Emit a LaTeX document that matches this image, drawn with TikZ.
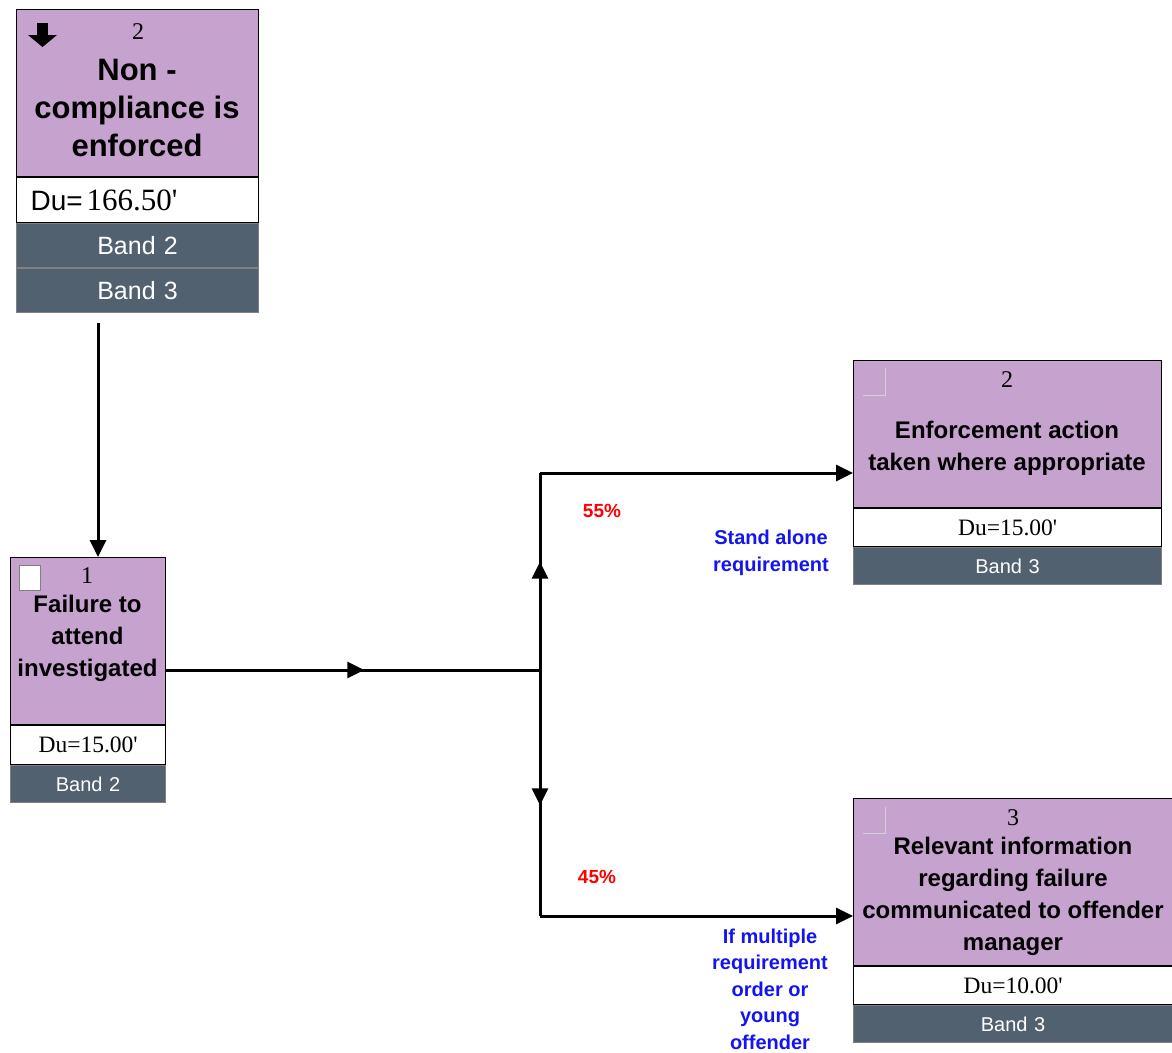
\documentclass[tikz,border=0pt]{standalone}
\usepackage{fontspec}
\setmainfont{Liberation Serif}
\setsansfont{Liberation Sans}
\usepackage{tikz}
\usetikzlibrary{positioning, arrows.meta, decorations.markings}
\usepackage{xcolor}
\definecolor{actpurple}{HTML}{C6A2CE}
\definecolor{bandgray}{HTML}{52616F}
\definecolor{condblue}{HTML}{1414F0}

\newcommand{\fsz}[2]{\fontsize{#1}{#2}\selectfont}
\newcommand{\mins}{\textquotesingle}

\begin{document}
\begin{tikzpicture}[x=1pt, y=-1pt,
		head/.style={draw, fill=actpurple, line width=1.2pt, inner sep=0pt, anchor=north west},
		durow/.style={draw, fill=white, line width=1.2pt, inner sep=0pt, align=center, font=\fsz{23.5}{28}},
		band/.style={draw=gray, fill=bandgray, text=white, line width=1pt, inner sep=0pt, align=center, font=\sffamily\fsz{20}{24}},
		title/.style={font=\sffamily\bfseries\fsz{24}{32}, align=center},
		num/.style={font=\fsz{24}{28}},
		pct/.style={text=red, font=\sffamily\bfseries\fsz{19}{22}},
		cond/.style={text=condblue, font=\sffamily\bfseries\fsz{20}{26.5}, align=center},
		link/.style={line width=3pt},
		flow/.style={link, -{Triangle[length=17pt,width=16pt]}},
		midarrow/.style={link, postaction={decorate}, decoration={markings,
			mark=at position #1 with {\arrow{Triangle[length=17pt,width=16pt]}}}},
		corner/.style={draw=gray!35, line width=1pt}]
		\useasboundingbox (0,0) rectangle (1172,1052);
		
		% top activity
		\node[head, minimum width=242pt, minimum height=167pt] (enforced) at (16,9) {};
		\node[durow, below=0pt of enforced, text width=214pt, inner xsep=14pt, minimum height=45pt, align=left]
			(enforcedDu) {{\sffamily\fsz{28}{30}Du=}\,{\fsz{31}{34}166.50\mins}};
		\node[band, below=0pt of enforcedDu, text width=242pt, minimum height=44pt, font=\sffamily\fsz{25}{28}] (enforcedB2) {Band 2};
		\node[band, below=0pt of enforcedB2, text width=242pt, minimum height=44pt, font=\sffamily\fsz{25}{28}] (enforcedB3) {Band 3};
		\node[num] at (138,32) {2};
		\node[title, font=\sffamily\bfseries\fsz{31}{38}] at (137,108) {Non -\\compliance is\\enforced};
		\fill (37,23) rectangle (48,36);
		\fill (28,35) -- (57,35) -- (42.5,47) -- cycle;
		
		% first step
		\node[head, minimum width=155pt, minimum height=167pt] (failure) at (10,557) {};
		\node[durow, below=0pt of failure, text width=155pt, minimum height=39pt] (failureDu) {Du=15.00\mins};
		\node[band, below=0pt of failureDu, text width=155pt, minimum height=37pt] (failureB2) {Band 2};
		\node[num] at (87,576) {1};
		\node[title] at (87.5,638) {Failure to\\attend\\investigated};
		\draw[gray, fill=white, line width=1pt] (19,565) rectangle (40,590);
		
		% outcome 55%
		\node[head, minimum width=308pt, minimum height=147pt] (action) at (853,360) {};
		\node[durow, below=0pt of action, text width=308pt, minimum height=38pt] (actionDu) {Du=15.00\mins};
		\node[band, below=0pt of actionDu, text width=308pt, minimum height=37pt] (actionB3) {Band 3};
		\node[num] at (1007,380) {2};
		\node[title] at (1007,448) {Enforcement action\\taken where appropriate};
		\draw[corner] (863,395) -- (885,395) -- (885,368);
		
		% outcome 45%
		\node[head, minimum width=319pt, minimum height=167pt] (inform) at (853,798) {};
		\node[durow, below=0pt of inform, text width=319pt, minimum height=38pt] (informDu) {Du=10.00\mins};
		\node[band, below=0pt of informDu, text width=319pt, minimum height=37pt] (informB3) {Band 3};
		\node[num] at (1013,818) {3};
		\node[title] at (1013,896) {Relevant information\\regarding failure\\communicated to offender\\manager};
		\draw[corner] (863,833) -- (885,833) -- (885,807);
		
		% connectors
		\coordinate (src)   at (98,323);
		\coordinate (split) at (540,670);
		\coordinate (up)    at (540,473);
		\coordinate (dn)    at (540,916);
		\draw[flow] (src) -- (src |- failure.north);
		\draw[midarrow=0.53] (split -| failure.east) -- (split);
		\draw[midarrow=0.55] (split) -- (up);
		\draw[midarrow=0.55] (split) -- (dn);
		\draw[flow] (up) -- (up -| action.west);
		\draw[flow] (dn) -- (dn -| inform.west);
		
		\node[pct] (p55) at (602,511) {55\%};
		\node[pct] (p45) at (597,877) {45\%};
		\node[cond] (c55) at (771,553) {Stand alone\\requirement};
		\node[cond] (c45) at (770,989) {If multiple\\requirement\\order or\\young\\offender};
	\end{tikzpicture}
\end{document}
